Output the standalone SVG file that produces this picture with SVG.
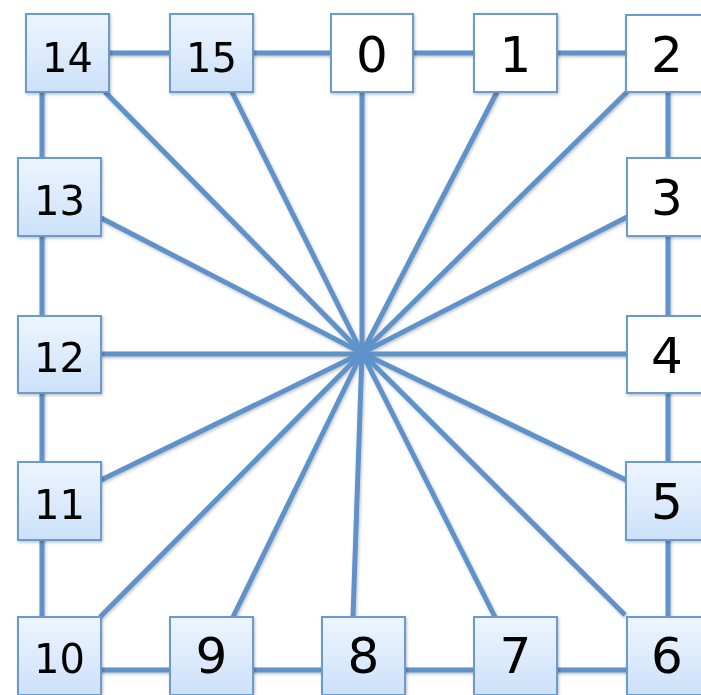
<svg xmlns="http://www.w3.org/2000/svg" width="701" height="695" viewBox="0 0 701 695">
<defs>
<linearGradient id="blueFill" x1="0" y1="0" x2="0" y2="1">
<stop offset="0" stop-color="#eef5fe"/>
<stop offset="1" stop-color="#cce1fa"/>
</linearGradient>
<filter id="sh" x="-10%" y="-10%" width="130%" height="130%">
<feDropShadow dx="1" dy="1.5" stdDeviation="1.5" flood-color="#000" flood-opacity="0.25"/>
</filter>
</defs>
<style>
.edge{stroke:#5e92c8;stroke-width:5;fill:none;stroke-linecap:butt}
.box{stroke:#6b9bd0;stroke-width:2}
.blue{fill:url(#blueFill)}
.white{fill:#ffffff}
.lbl{font-family:"DejaVu Sans",Verdana,sans-serif;fill:#000;text-anchor:middle}
.one{font-size:50px}
.two{font-size:40px}
</style>
<rect width="701" height="695" fill="#ffffff"/>
<g id="connectors" filter="url(#sh)">
<path class="edge" d="M42,53 H668 V670 H42 Z"/>
<line class="edge" x1="105" y1="92" x2="362" y2="353"/>
<line class="edge" x1="232" y1="92" x2="362" y2="353"/>
<line class="edge" x1="362" y1="92" x2="362" y2="353"/>
<line class="edge" x1="497" y1="92" x2="362" y2="353"/>
<line class="edge" x1="627" y1="92" x2="362" y2="353"/>
<line class="edge" x1="627" y1="217" x2="362" y2="353"/>
<line class="edge" x1="627" y1="354" x2="362" y2="354"/>
<line class="edge" x1="626" y1="480" x2="362" y2="353"/>
<line class="edge" x1="625" y1="615" x2="362" y2="353"/>
<line class="edge" x1="495" y1="617" x2="362" y2="353"/>
<line class="edge" x1="353" y1="617" x2="362" y2="353"/>
<line class="edge" x1="233" y1="617" x2="362" y2="353"/>
<line class="edge" x1="100" y1="617" x2="362" y2="353"/>
<line class="edge" x1="101" y1="480" x2="362" y2="353"/>
<line class="edge" x1="101" y1="354" x2="362" y2="354"/>
<line class="edge" x1="101" y1="218" x2="362" y2="353"/>
</g>
<g id="n14" filter="url(#sh)"><rect class="box blue" x="26" y="14" width="83" height="78"/><text class="lbl two" x="67.5" y="72">14</text></g>
<g id="n15" filter="url(#sh)"><rect class="box blue" x="170" y="14" width="83" height="78"/><text class="lbl two" x="211.5" y="72">15</text></g>
<g id="n0" filter="url(#sh)"><rect class="box white" x="331" y="14" width="82" height="78"/><text class="lbl one" x="372" y="72">0</text></g>
<g id="n1" filter="url(#sh)"><rect class="box white" x="474" y="14" width="83" height="78"/><text class="lbl one" x="515.5" y="72">1</text></g>
<g id="n2" filter="url(#sh)"><rect class="box white" x="626" y="15" width="83" height="77"/><text class="lbl one" x="667" y="72">2</text></g>
<g id="n3" filter="url(#sh)"><rect class="box white" x="627" y="158" width="83" height="78"/><text class="lbl one" x="667" y="215">3</text></g>
<g id="n4" filter="url(#sh)"><rect class="box white" x="627" y="316" width="83" height="77"/><text class="lbl one" x="667" y="373">4</text></g>
<g id="n5" filter="url(#sh)"><rect class="box blue" x="626" y="462" width="83" height="78"/><text class="lbl one" x="667" y="519">5</text></g>
<g id="n6" filter="url(#sh)"><rect class="box blue" x="627" y="617" width="83" height="78"/><text class="lbl one" x="667" y="673">6</text></g>
<g id="n7" filter="url(#sh)"><rect class="box blue" x="474" y="617" width="83" height="78"/><text class="lbl one" x="515.5" y="673">7</text></g>
<g id="n8" filter="url(#sh)"><rect class="box blue" x="322" y="617" width="83" height="78"/><text class="lbl one" x="363.5" y="673">8</text></g>
<g id="n9" filter="url(#sh)"><rect class="box blue" x="170" y="617" width="83" height="78"/><text class="lbl one" x="211.5" y="673">9</text></g>
<g id="n10" filter="url(#sh)"><rect class="box blue" x="18" y="617" width="83" height="78"/><text class="lbl two" x="59.5" y="673">10</text></g>
<g id="n11" filter="url(#sh)"><rect class="box blue" x="18" y="462" width="83" height="78"/><text class="lbl two" x="59.5" y="519">11</text></g>
<g id="n12" filter="url(#sh)"><rect class="box blue" x="18" y="316" width="83" height="77"/><text class="lbl two" x="59.5" y="372">12</text></g>
<g id="n13" filter="url(#sh)"><rect class="box blue" x="18" y="158" width="83" height="78"/><text class="lbl two" x="59.5" y="215">13</text></g>
</svg>
